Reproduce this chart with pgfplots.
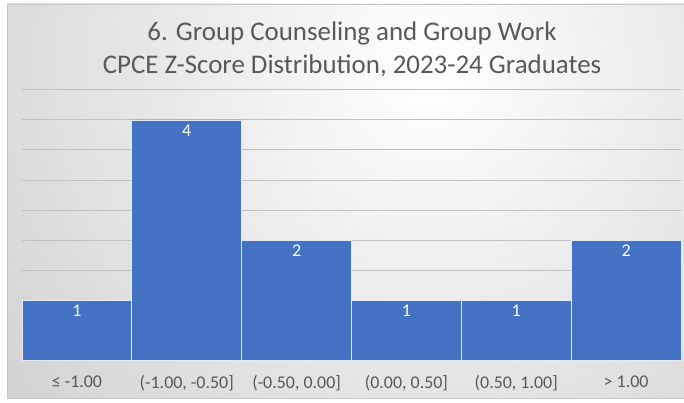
\documentclass[border=0pt]{standalone}
\usepackage{pgfplots}
\pgfplotsset{compat=1.18}
\usepackage{fontspec}
\setmainfont{Carlito}
\definecolor{barblue}{HTML}{4472C4}
\definecolor{txt}{HTML}{595959}
\definecolor{gridc}{HTML}{C0C0C0}
\definecolor{bgout}{HTML}{C6C6C6}
\begin{document}
\begin{tikzpicture}[x=1bp,y=1bp]
\useasboundingbox (0,0) rectangle (684,402);
\begin{scope}
\clip (7,4) rectangle (684,398);
\shade[inner color=white, outer color=bgout] (430,330) circle (680);
\end{scope}
\draw[color=gray!45, line width=0.8bp] (7,4) rectangle (684,398);
\node[text=txt, font=\fontsize{27}{30}\selectfont] at (352,369) {6. Group Counseling and Group Work};
\node[text=txt, font=\fontsize{27}{30}\selectfont] at (352,336) {CPCE Z-Score Distribution, 2023-24 Graduates};
\begin{axis}[
  at={(22bp,42bp)}, anchor=south west,
  scale only axis, width=659bp, height=270bp,
  xmin=-0.5, xmax=5.5, ymin=0, ymax=4.5,
  ytick={0,0.5,1,1.5,2,2.5,3,3.5,4,4.5}, yticklabels={},
  ymajorgrids, major grid style={draw=gridc, line width=1bp},
  xtick={0,1,2,3,4,5},
  xticklabels={{≤ -1.00},{(-1.00, -0.50]},{(-0.50, 0.00]},{(0.00, 0.50]},{(0.50, 1.00]},{> 1.00}},
  xticklabel style={font=\fontsize{18}{21}\selectfont, text=txt, yshift=-12bp},
  major tick length=0,
  axis x line*=bottom, axis y line*=left,
  y axis line style={draw=none},
  x axis line style={draw=black!75, line width=2bp},
  /pgf/number format/assume math mode=true,
  clip=false,
]
\addplot[ybar, bar width=1, fill=barblue, draw=white!85!barblue, line width=0.8bp,
  nodes near coords,
  every node near coord/.append style={anchor=north, text=white, font=\fontsize{18}{21}\selectfont, yshift=-1bp}]
  coordinates {(0,1) (1,4) (2,2) (3,1) (4,1) (5,2)};
\end{axis}
\end{tikzpicture}
\end{document}
